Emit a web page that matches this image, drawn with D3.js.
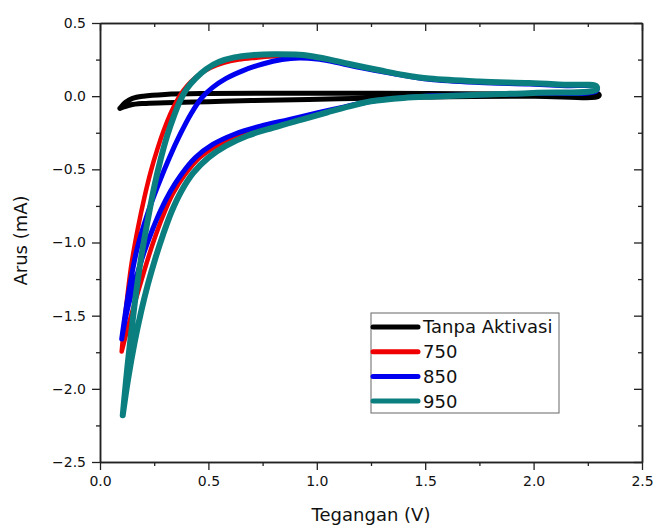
<!DOCTYPE html>
<html>
<head>
<meta charset="utf-8">
<script src="https://cdn.jsdelivr.net/npm/d3@7"></script>
<style>
  body { margin: 0; background: #fff; }
  text { font-family: "DejaVu Sans", sans-serif; fill: #111; }
</style>
</head>
<body>
<div id="chart-area"></div>
<script>
// series names and colours
var seriesNames  = ["Tanpa Aktivasi", "750", "850", "950"];
var seriesColors = ["#000000", "#f00000", "#0000f0", "#0b7f7f"];

// each loop: [voltage (V), current (mA)], forward sweep then return sweep
var tanpaAktivasi = [
    [0.092, -0.083], [0.12, -0.04], [0.15, -0.015], [0.2, 0.0], [0.3, 0.012], [0.5, 0.018],
    [1.0, 0.02], [1.5, 0.018], [2.0, 0.015], [2.3, 0.015],
    [2.3, 0.0], [2.0, 0.0], [1.5, -0.005], [1.1, -0.018], [0.7, -0.03], [0.5, -0.038],
    [0.3, -0.045], [0.2, -0.05], [0.14, -0.06], [0.092, -0.083]
];
var s750 = [
    [0.1, -1.745], [0.12, -1.45], [0.145, -1.15], [0.175, -0.9], [0.205, -0.69], [0.235, -0.51],
    [0.265, -0.36], [0.295, -0.23], [0.325, -0.12], [0.355, -0.03], [0.385, 0.04], [0.42, 0.1],
    [0.46, 0.15], [0.51, 0.195], [0.57, 0.228], [0.64, 0.25], [0.72, 0.263], [0.8, 0.273],
    [0.88, 0.279], [0.97, 0.272], [1.06, 0.248], [1.15, 0.218], [1.29, 0.175], [1.52, 0.118],
    [1.75, 0.098], [1.98, 0.088], [2.15, 0.076], [2.29, 0.066],
    [2.29, 0.04], [2.0, 0.022], [1.75, 0.01], [1.55, 0.0], [1.4, -0.012], [1.25, -0.035],
    [1.1, -0.085], [1.0, -0.12], [0.9, -0.16], [0.78, -0.205], [0.66, -0.26], [0.55, -0.33],
    [0.46, -0.42], [0.39, -0.54], [0.335, -0.67], [0.29, -0.82], [0.25, -0.98], [0.215, -1.14],
    [0.185, -1.29], [0.155, -1.44], [0.125, -1.6], [0.1, -1.745]
];
var s850 = [
    [0.1, -1.66], [0.13, -1.36], [0.17, -1.05], [0.22, -0.8], [0.27, -0.6], [0.32, -0.42],
    [0.37, -0.26], [0.42, -0.12], [0.47, -0.01], [0.52, 0.06], [0.58, 0.12], [0.66, 0.175],
    [0.75, 0.22], [0.84, 0.25], [0.92, 0.26], [1.0, 0.254], [1.06, 0.24], [1.2, 0.195],
    [1.35, 0.155], [1.52, 0.115], [1.75, 0.093], [1.98, 0.083], [2.15, 0.072], [2.29, 0.062],
    [2.29, 0.035], [2.0, 0.02], [1.7, 0.008], [1.5, 0.0], [1.3, -0.025], [1.2, -0.05],
    [1.1, -0.082], [1.0, -0.115], [0.87, -0.16], [0.74, -0.205], [0.62, -0.26], [0.52, -0.33],
    [0.44, -0.42], [0.375, -0.535], [0.325, -0.65], [0.28, -0.78], [0.24, -0.92], [0.205, -1.06],
    [0.175, -1.2], [0.145, -1.35], [0.12, -1.5], [0.1, -1.66]
];
var s950 = [
    [0.105, -2.18], [0.13, -1.8], [0.16, -1.42], [0.19, -1.1], [0.22, -0.85], [0.25, -0.62],
    [0.28, -0.43], [0.31, -0.27], [0.34, -0.14], [0.37, -0.03], [0.4, 0.05], [0.44, 0.12],
    [0.49, 0.185], [0.55, 0.235], [0.62, 0.265], [0.7, 0.28], [0.8, 0.287], [0.9, 0.284],
    [0.97, 0.275], [1.06, 0.25], [1.15, 0.22], [1.29, 0.177], [1.4, 0.145], [1.52, 0.12],
    [1.75, 0.1], [1.98, 0.09], [2.15, 0.078], [2.29, 0.068],
    [2.29, 0.045], [2.0, 0.022], [1.75, 0.01], [1.55, -0.002], [1.4, -0.012], [1.25, -0.035],
    [1.15, -0.07], [1.05, -0.11], [0.93, -0.16], [0.8, -0.215], [0.68, -0.27], [0.58, -0.34],
    [0.5, -0.42], [0.43, -0.525], [0.375, -0.65], [0.33, -0.79], [0.29, -0.95], [0.255, -1.11],
    [0.22, -1.29], [0.19, -1.47], [0.16, -1.68], [0.13, -1.93], [0.105, -2.18]
];
var seriesData = [tanpaAktivasi, s750, s850, s950];
var seriesWidth = [5, 4.5, 5, 6];

// axis ticks
var xTicks = [0.0, 0.5, 1.0, 1.5, 2.0, 2.5];
var yTicks = [0.5, 0.0, -0.5, -1.0, -1.5, -2.0, -2.5];

var margin = { top: 23, bottom: 64, left: 100, right: 13 };
var width  = 655 - margin.left - margin.right;
var height = 526 - margin.top - margin.bottom;

var svg = d3.select("#chart-area")
    .append("svg")
        .attr("width", 655)
        .attr("height", 526);

var g = svg.append("g")
    .attr("transform", "translate(" + margin.left + ", " + margin.top + ")");

var x = d3.scaleLinear().domain([0, 2.5]).range([0, width]);
var y = d3.scaleLinear().domain([-2.5, 0.5]).range([height, 0]);

var minorX = d3.range(0, 2.51, 0.25).filter(function(v) { return Math.abs(v * 2 - Math.round(v * 2)) > 0.01; });
var minorY = d3.range(-2.5, 0.51, 0.25).filter(function(v) { return Math.abs(v * 2 - Math.round(v * 2)) > 0.01; });

function styleAxis(sel) {
    sel.select(".domain").attr("stroke", "#222").attr("stroke-width", 1.5);
    sel.selectAll(".tick line").attr("stroke", "#222").attr("stroke-width", 1.3);
}

// minor ticks first
g.append("g").attr("transform", "translate(0," + height + ")")
    .call(d3.axisBottom(x).tickValues(minorX).tickSize(4).tickSizeOuter(0).tickFormat(""))
    .call(styleAxis);
g.append("g")
    .call(d3.axisLeft(y).tickValues(minorY).tickSize(4).tickSizeOuter(0).tickFormat(""))
    .call(styleAxis);
g.append("g")
    .call(d3.axisTop(x).tickValues(minorX).tickSize(-4).tickSizeOuter(0).tickFormat(""))
    .call(styleAxis);
g.append("g").attr("transform", "translate(" + width + ",0)")
    .call(d3.axisRight(y).tickValues(minorY).tickSize(-4).tickSizeOuter(0).tickFormat(""))
    .call(styleAxis);

// major ticks
g.append("g")
    .attr("class", "x-axis")
    .attr("transform", "translate(0," + height + ")")
    .call(d3.axisBottom(x).tickValues(xTicks).tickSize(8).tickSizeOuter(0).tickPadding(6).tickFormat(d3.format(".1f")))
    .call(styleAxis)
    .selectAll("text").attr("font-size", "14px").attr("font-family", "DejaVu Sans");

g.append("g")
    .attr("class", "y-axis")
    .call(d3.axisLeft(y).tickValues(yTicks).tickSize(8).tickSizeOuter(0).tickPadding(6).tickFormat(d3.format(".1f")))
    .call(styleAxis)
    .selectAll("text").attr("font-size", "14px").attr("font-family", "DejaVu Sans");

g.append("g")
    .call(d3.axisTop(x).tickValues(xTicks).tickSize(-8).tickSizeOuter(0).tickFormat(""))
    .call(styleAxis);
g.append("g").attr("transform", "translate(" + width + ",0)")
    .call(d3.axisRight(y).tickValues(yTicks).tickSize(-8).tickSizeOuter(0).tickFormat(""))
    .call(styleAxis);

g.append("text")
    .attr("x", width / 2)
    .attr("y", height + 59)
    .attr("font-size", "18px")
    .attr("text-anchor", "middle")
    .text("Tegangan (V)");

g.append("text")
    .attr("x", -(height / 2) + 2)
    .attr("y", -73)
    .attr("font-size", "18px")
    .attr("text-anchor", "middle")
    .attr("transform", "rotate(-90)")
    .text("Arus (mA)");

// curves
var line = d3.line()
    .x(function(d) { return x(d[0]); })
    .y(function(d) { return y(d[1]); })
    .curve(d3.curveCatmullRom.alpha(0.5));

g.selectAll("path.cv")
    .data(seriesData)
    .enter()
    .append("path")
        .attr("class", "cv")
        .attr("d", line)
        .attr("fill", "none")
        .attr("stroke", function(d, i) { return seriesColors[i]; })
        .attr("stroke-width", function(d, i) { return seriesWidth[i]; })
        .attr("stroke-linecap", "round")
        .attr("stroke-linejoin", "round");

// legend
var legend = svg.append("g").attr("transform", "translate(371, 313)");
legend.append("rect")
    .attr("width", 188).attr("height", 100)
    .attr("fill", "#fff").attr("stroke", "#666").attr("stroke-width", 1);

var rows = legend.selectAll("g.row")
    .data(seriesNames)
    .enter()
    .append("g")
        .attr("class", "row")
        .attr("transform", function(d, i) { return "translate(0," + (14 + i * 24.7) + ")"; });

rows.append("line")
    .attr("x1", 2).attr("x2", 47)
    .attr("stroke", function(d, i) { return seriesColors[i]; })
    .attr("stroke-width", 5)
    .attr("stroke-linecap", "round");

rows.append("text")
    .attr("x", 52)
    .attr("dy", "0.36em")
    .attr("font-size", "18px")
    .text(function(d) { return d; });
</script>
</body>
</html>
